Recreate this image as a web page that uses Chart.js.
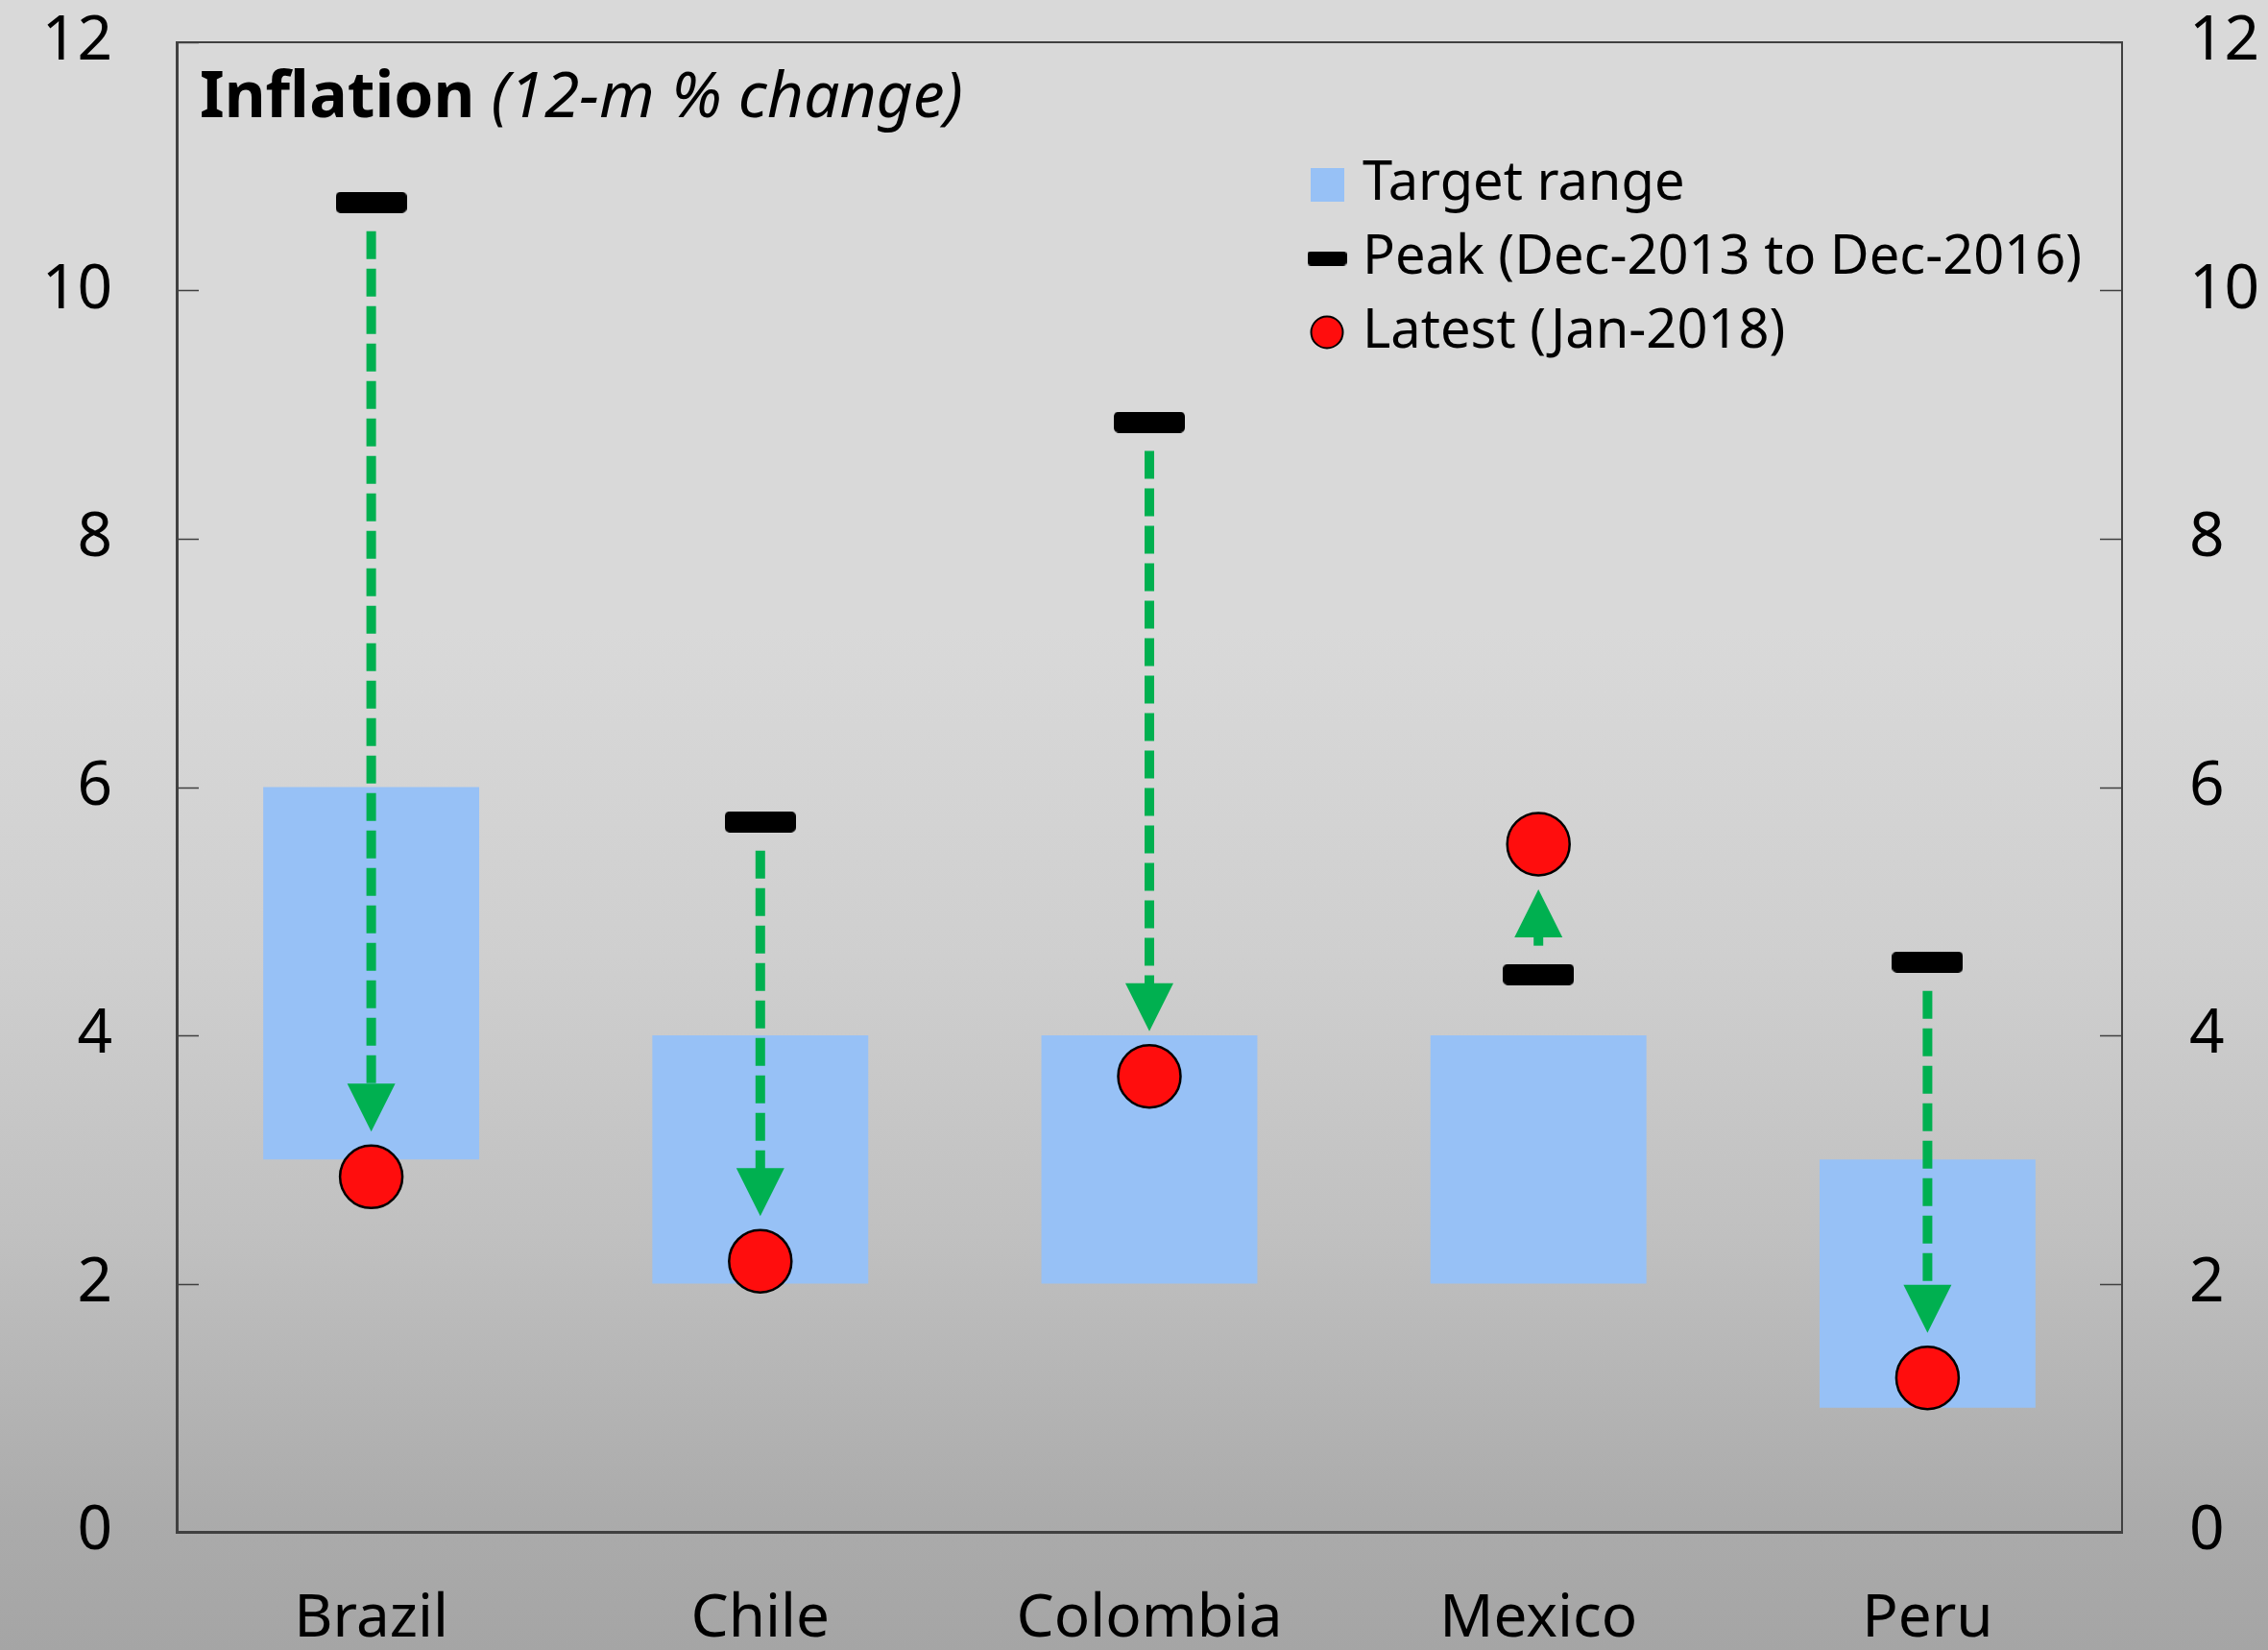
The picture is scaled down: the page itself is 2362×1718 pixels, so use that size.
<!DOCTYPE html>
<html>
<head>
<meta charset="utf-8">
<title>Inflation (12-m % change)</title>
<script src="https://cdn.jsdelivr.net/npm/chart.js@4.4.1/dist/chart.umd.min.js"></script>
<style>
  html, body { margin: 0; padding: 0; background: #d9d9d9; }
  #wrap { width: 2362px; height: 1718px; }
</style>
</head>
<body>
<div id="wrap"><canvas id="inflationChart" width="2362" height="1718"></canvas></div>
<script>
// Chart data
const categories = ['Brazil', 'Chile', 'Colombia', 'Mexico', 'Peru'];
const targetLow = [3, 2, 2, 2, 1];
const targetHigh = [6, 4, 4, 4, 3];
const peak = [10.71, 5.72, 8.94, 4.49, 4.59];
const latest = [2.86, 2.18, 3.67, 5.54, 1.24];
const yTicks = [0, 2, 4, 6, 8, 10, 12];

const seriesLabels = ['Target range', 'Peak (Dec-2013 to Dec-2016)', 'Latest (Jan-2018)'];

const blue = '#97c1f6';
const green = '#00b050';
const red = '#ff0d0d';
const axisGrey = '#404040';

Chart.defaults.font.family = '"Noto Sans", sans-serif';
Chart.defaults.color = '#000';

// Small canvases used as point styles
function makeMarker(w, h, draw) {
    const c = document.createElement('canvas');
    c.width = w;
    c.height = h;
    draw(c.getContext('2d'), w, h);
    return c;
}

const peakMark = makeMarker(74, 22, (ctx, w, h) => {
    ctx.fillStyle = '#000';
    ctx.beginPath();
    ctx.roundRect(0, 0, w, h, 5);
    ctx.fill();
});

// Legend markers are smaller than the ones in the plot
const legendMarks = [
    makeMarker(35, 35, (ctx, w, h) => {
        ctx.fillStyle = blue;
        ctx.fillRect(0, 0, w, h);
    }),
    makeMarker(41, 15, (ctx, w, h) => {
        ctx.fillStyle = '#000';
        ctx.beginPath();
        ctx.roundRect(0, 0, w, h, 4);
        ctx.fill();
    }),
    makeMarker(38, 38, (ctx, w, h) => {
        ctx.fillStyle = red;
        ctx.strokeStyle = '#000';
        ctx.lineWidth = 2;
        ctx.beginPath();
        ctx.arc(w / 2, h / 2, 16.5, 0, Math.PI * 2);
        ctx.fill();
        ctx.stroke();
    })
];

// Background, frame, inward ticks, title and the green arrows
const decorPlugin = {
    id: 'decor',
    beforeDraw(chart) {
        const { ctx, width, height } = chart;
        const g = ctx.createLinearGradient(0, 0, 0, height);
        g.addColorStop(0, '#d9d9d9');
        g.addColorStop(0.38, '#d9d9d9');
        g.addColorStop(0.58, '#cfcfcf');
        g.addColorStop(0.75, '#c0c0c0');
        g.addColorStop(0.92, '#ababab');
        g.addColorStop(1, '#a5a5a5');
        ctx.save();
        ctx.fillStyle = g;
        ctx.fillRect(0, 0, width, height);
        ctx.restore();
    },
    afterLayout(chart) {
        // put the legend inside the plot, top right
        const lg = chart.legend;
        const area = chart.chartArea;
        if (!lg) return;
        const w = lg.width, h = lg.height;
        lg.left = area.left + 1168;
        lg.top = area.top + 99;
        lg.right = lg.left + w;
        lg.bottom = lg.top + h;
    },
    beforeDatasetsDraw(chart) {
        const { ctx, chartArea: area } = chart;
        const y = chart.scales.y;
        ctx.save();

        // top border
        ctx.strokeStyle = axisGrey;
        ctx.lineWidth = 2;
        ctx.beginPath();
        ctx.moveTo(area.left, area.top);
        ctx.lineTo(area.right, area.top);
        ctx.stroke();

        // tick marks pointing inwards on both sides
        ctx.lineWidth = 1.5;
        yTicks.forEach(v => {
            const py = Math.round(y.getPixelForValue(v)) + 0.5;
            ctx.beginPath();
            ctx.moveTo(area.left, py);
            ctx.lineTo(area.left + 23, py);
            ctx.moveTo(area.right - 23, py);
            ctx.lineTo(area.right, py);
            ctx.stroke();
        });

        // title: bold part then italic part
        const tx = area.left + 24;
        const ty = area.top + 78;
        ctx.fillStyle = '#000';
        ctx.textBaseline = 'alphabetic';
        ctx.textAlign = 'left';
        ctx.font = 'bold 66px "Noto Sans"';
        ctx.fillText('Inflation', tx, ty);
        const w = ctx.measureText('Inflation ').width;
        ctx.font = 'italic 66px "Noto Sans"';
        ctx.fillText('(12-m % change)', tx + w, ty);
        ctx.restore();
    },
    afterDatasetsDraw(chart) {
        const { ctx } = chart;
        const x = chart.scales.x;
        const y = chart.scales.y;
        ctx.save();
        ctx.strokeStyle = green;
        ctx.fillStyle = green;
        categories.forEach((c, i) => {
            const px = x.getPixelForValue(i);
            const y0 = y.getPixelForValue(peak[i]);
            const y1 = y.getPixelForValue(latest[i]);
            const dir = y1 > y0 ? 1 : -1; // 1 means the arrow points down
            const start = y0 + dir * 30;
            const tip = y1 - dir * 47;
            const base = tip - dir * 50;
            ctx.lineWidth = 10;
            ctx.setLineDash([29, 10]);
            ctx.beginPath();
            ctx.moveTo(px, start);
            ctx.lineTo(px, base + dir * 2);
            ctx.stroke();
            ctx.setLineDash([]);
            ctx.beginPath();
            ctx.moveTo(px - 25, base);
            ctx.lineTo(px + 25, base);
            ctx.lineTo(px, tip);
            ctx.closePath();
            ctx.fill();
        });
        ctx.restore();
    }
};

function setTicks(scale) {
    scale.ticks = yTicks.map(v => ({ value: v }));
}

// value axes: fixed width and no extra padding from the tick labels
function fitValueAxis(width) {
    return s => {
        s.width = width;
        s.paddingTop = 0;
        s.paddingBottom = 0;
    };
}

const ctx = document.getElementById('inflationChart').getContext('2d');
const inflationChart = new Chart(ctx, {
    type: 'bar',
    data: {
        labels: categories,
        datasets: [{
            type: 'bar',
            label: seriesLabels[0],
            data: categories.map((c, i) => [targetLow[i], targetHigh[i]]),
            backgroundColor: blue,
            borderWidth: 0,
            barPercentage: 0.555,
            categoryPercentage: 1,
            order: 3
        }, {
            type: 'line',
            label: seriesLabels[1],
            data: peak,
            showLine: false,
            pointStyle: peakMark,
            pointRadius: 10,
            order: 1
        }, {
            type: 'line',
            label: seriesLabels[2],
            data: latest,
            showLine: false,
            pointStyle: 'circle',
            pointRadius: 32.5,
            pointBackgroundColor: red,
            pointBorderColor: '#000',
            pointBorderWidth: 2.5,
            order: 0
        }]
    },
    options: {
        responsive: false,
        animation: false,
        devicePixelRatio: 1,
        events: [],
        layout: { padding: { top: 44, left: 0, right: 0, bottom: 0 } },
        plugins: {
            tooltip: { enabled: false },
            legend: {
                position: 'chartArea',
                align: 'start',
                labels: {
                    usePointStyle: true,
                    boxWidth: 18,
                    boxHeight: 18,
                    padding: 21,
                    font: { size: 56 },
                    color: '#000',
                    generateLabels: chart => chart.data.datasets.map((ds, i) => ({
                        text: ds.label,
                        pointStyle: legendMarks[i],
                        datasetIndex: i,
                        hidden: false,
                        lineWidth: 0,
                        fillStyle: 'transparent',
                        strokeStyle: 'transparent',
                        fontColor: '#000',
                        textAlign: 'left'
                    }))
                }
            }
        },
        scales: {
            x: {
                grid: { display: false, drawTicks: false },
                border: { display: true, color: axisGrey, width: 3 },
                ticks: { color: '#000', font: { size: 62 }, padding: 54, maxRotation: 0 },
                afterFit: s => { s.height = 123; }
            },
            y: {
                position: 'left',
                min: 0,
                max: 12,
                afterBuildTicks: setTicks,
                grid: { display: false, drawTicks: false },
                border: { display: true, color: axisGrey, width: 3 },
                ticks: { color: '#000', font: { size: 64 }, padding: 67 },
                afterFit: fitValueAxis(184)
            },
            y2: {
                position: 'right',
                min: 0,
                max: 12,
                afterBuildTicks: setTicks,
                grid: { display: false, drawTicks: false },
                border: { display: true, color: axisGrey, width: 2 },
                ticks: { color: '#000', font: { size: 64 }, padding: 70 },
                afterFit: fitValueAxis(152)
            }
        }
    },
    plugins: [decorPlugin]
});
</script>
</body>
</html>
